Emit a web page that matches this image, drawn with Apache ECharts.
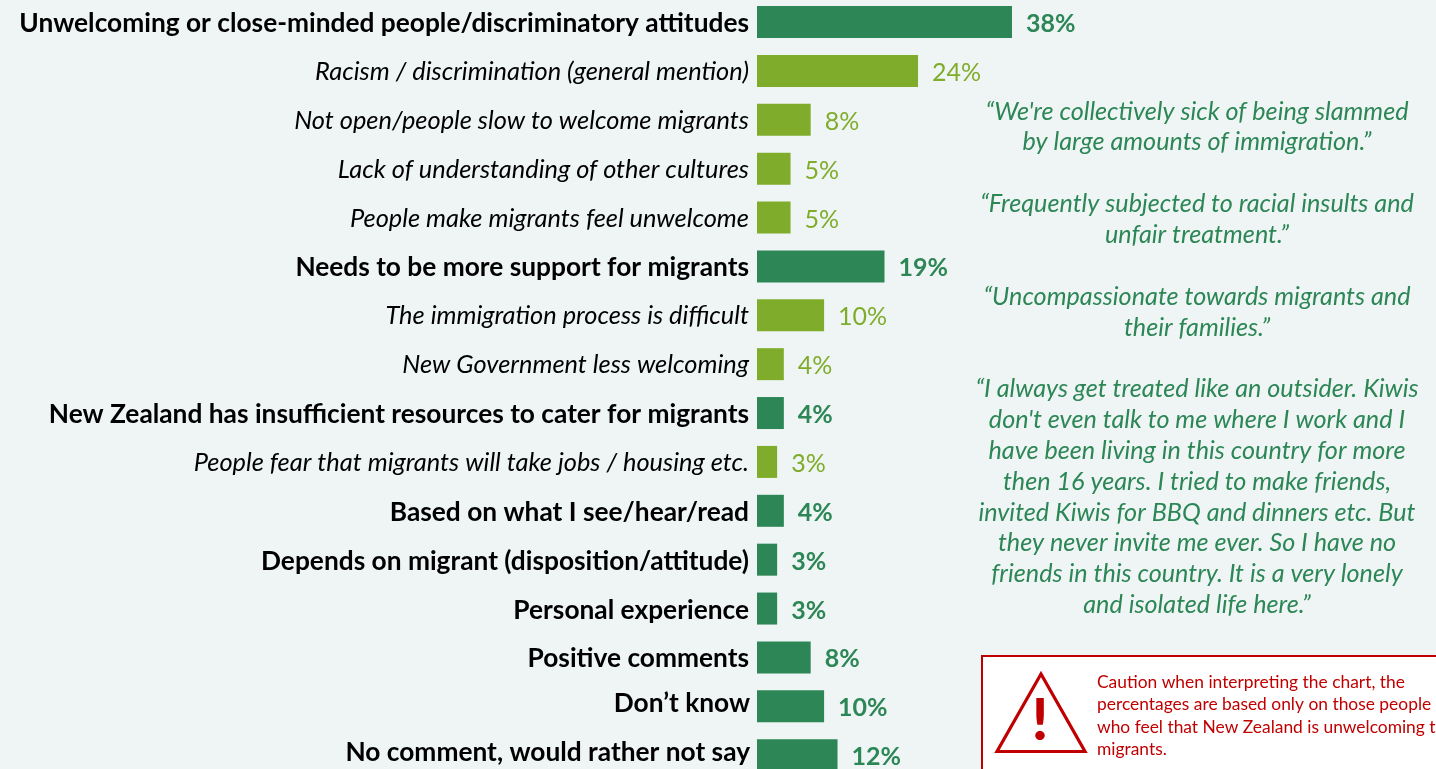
<!DOCTYPE html>
<html><head><meta charset="utf-8">
<style>html,body{margin:0;padding:0;background:#EFF5F5;overflow:hidden;height:769px}#c{width:1436px;height:820px;position:absolute;left:0;top:-20px}</style>
<script src="https://cdn.jsdelivr.net/npm/echarts@6/dist/echarts.min.js"></script>
</head><body><div id="c"></div>
<script>
const categories = ["Unwelcoming or close-minded people/discriminatory attitudes","Racism / discrimination (general mention)","Not open/people slow to welcome migrants","Lack of understanding of other cultures","People make migrants feel unwelcome","Needs to be more support for migrants","The immigration process is difficult","New Government less welcoming","New Zealand has insufficient resources to cater for migrants","People fear that migrants will take jobs / housing etc.","Based on what I see/hear/read","Depends on migrant (disposition/attitude)","Personal experience","Positive comments","Don’t know","No comment, would rather not say"];
const values = [38,24,8,5,5,19,10,4,4,3,4,3,3,8,10,12];
const isHeadline = [1,0,0,0,0,1,0,0,1,0,1,1,1,1,1,1];
const raisedLabels = ["Don’t know","No comment, would rather not say"];
const quotes = ["“We're collectively sick of being slammed","by large amounts of immigration.”","","“Frequently subjected to racial insults and","unfair treatment.”","","“Uncompassionate towards migrants and","their families.”","","“I always get treated like an outsider. Kiwis","don't even talk to me where I work and I","have been living in this country for more","then 16 years. I tried to make friends,","invited Kiwis for BBQ and dinners etc. But","they never invite me ever. So I have no","friends in this country. It is a very lonely","and isolated life here.”"];
const caution = ["Caution when interpreting the chart, the","percentages are based only on those people","who feel that New Zealand is unwelcoming to","migrants."];
const DARK="#2C8655", LIGHT="#7FAD2B", RED="#C00000", FONT="Lato";
const chart = echarts.init(document.getElementById('c'),null,{renderer:'canvas'});
chart.setOption({
  backgroundColor:"#EFF5F5",animation:false,
  textStyle:{fontFamily:FONT},
  grid:{left:757,width:671,top:17.6,height:782,containLabel:false},
  xAxis:{type:'value',min:0,max:100,show:false},
  yAxis:{type:'category',inverse:true,data:categories,
    axisLine:{show:false},axisTick:{show:false},
    axisLabel:{margin:8,interval:0,align:'right',
      formatter:(v)=>{const i=categories.indexOf(v);
        if(raisedLabels.includes(v))return `{r|${v}}`;
        return isHeadline[i]?`{b|${v}}`:`{i|${v}}`;},
      rich:{b:{fontFamily:FONT,fontWeight:'bold',fontSize:26.3,color:'#000',padding:[3,0,0,0]},
            r:{fontFamily:FONT,fontWeight:'bold',fontSize:26.3,color:'#000',padding:[0,-1,6,0]},
            i:{fontFamily:FONT,fontStyle:'italic',fontSize:25.4,color:'#000',padding:[2,0,0,0]}}}},
  series:[{type:'bar',barWidth:32,
    data:values.map((v,i)=>({value:v,itemStyle:{color:isHeadline[i]?DARK:LIGHT},
      label:{color:isHeadline[i]?DARK:LIGHT,fontWeight:isHeadline[i]?'bold':'normal'}})),
    label:{show:true,position:'right',distance:14,offset:[0,2],fontFamily:FONT,fontSize:25,formatter:p=>p.value+'%'}}],
  graphic:[{type:'group',y:20,children:[
    {type:'text',x:1197,y:96,style:{text:quotes.join("\n"),fill:DARK,font:`italic 25.2px ${FONT}`,align:'center',lineHeight:30.85,verticalAlign:'top'}},
    {type:'rect',shape:{x:982,y:656,width:470,height:130},style:{fill:'#fff',stroke:RED,lineWidth:2}},
    {type:'polygon',shape:{points:[[1041,674],[997,751.5],[1085,751.5]]},style:{fill:'none',stroke:RED,lineWidth:3.2}},
    {type:'text',x:1040,y:692,style:{text:"!",fill:RED,font:`900 58px ${FONT}`,align:'center',verticalAlign:'top'}},
    {type:'text',x:1097,y:671,style:{text:caution.join("\n"),fill:RED,font:`17.4px ${FONT}`,lineHeight:22.4,verticalAlign:'top'}}
  ]}]
});
</script></body></html>
